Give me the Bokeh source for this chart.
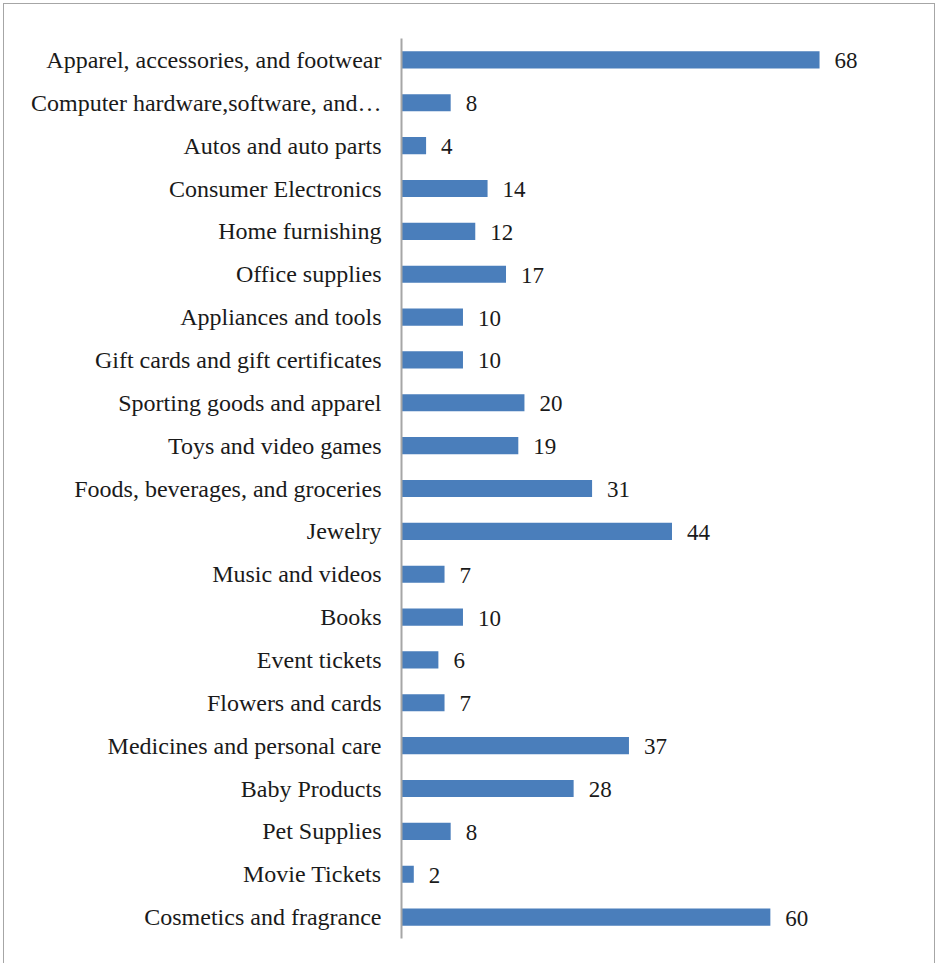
from bokeh.plotting import figure
from bokeh.models import ColumnDataSource, Range1d
from bokeh.embed import file_html
from bokeh.resources import INLINE
from bokeh.core.properties import value

categories = [
    "Apparel, accessories, and footwear",
    "Computer hardware,software, and\u2026",
    "Autos and auto parts",
    "Consumer Electronics",
    "Home furnishing",
    "Office supplies",
    "Appliances and tools",
    "Gift cards and gift certificates",
    "Sporting goods and apparel",
    "Toys and video games",
    "Foods, beverages, and groceries",
    "Jewelry",
    "Music and videos",
    "Books",
    "Event tickets",
    "Flowers and cards",
    "Medicines and personal care",
    "Baby Products",
    "Pet Supplies",
    "Movie Tickets",
    "Cosmetics and fragrance",
]
values = [68, 8, 4, 14, 12, 17, 10, 10, 20, 19, 31, 44, 7, 10, 6, 7, 37, 28, 8, 2, 60]

FONT = "Liberation Serif"
BAR = "#4a7ebb"

src = ColumnDataSource(dict(cat=categories, val=values, lab=[str(v) for v in values]))

p = figure(
    width=932, height=960,
    y_range=list(reversed(categories)),
    x_range=Range1d(0, 86.7),
    output_backend="svg", toolbar_location=None,
    min_border_left=397, min_border_top=34, min_border_bottom=26, min_border_right=2,
)
p.styles = {"margin-left": "3px", "margin-top": "3px",
            "border-left": "1px solid #a6a6a6", "border-top": "1px solid #a6a6a6",
            "border-right": "1px solid #a6a6a6"}
p.outline_line_color = None
p.grid.visible = False
p.xaxis.visible = False
p.y_range.range_padding = 0

p.hbar(y="cat", right="val", left=0, height=0.4, source=src, color=BAR, line_color=None)
p.text(x="val", y="cat", text="lab", source=src, x_offset=15, y_offset=1,
       text_font=value(FONT), text_font_size="23px", text_baseline="middle",
       text_align="left", text_color="#1a1a1a")

ya = p.yaxis[0]
ya.major_tick_line_color = None
ya.minor_tick_line_color = None
ya.axis_line_color = "#a6a6a6"
ya.axis_line_width = 2
ya.major_label_standoff = 14
ya.major_label_text_font = FONT
ya.major_label_text_font_size = "24px"
ya.major_label_text_color = "#1a1a1a"

open("out.html", "w").write(file_html(p, INLINE))
